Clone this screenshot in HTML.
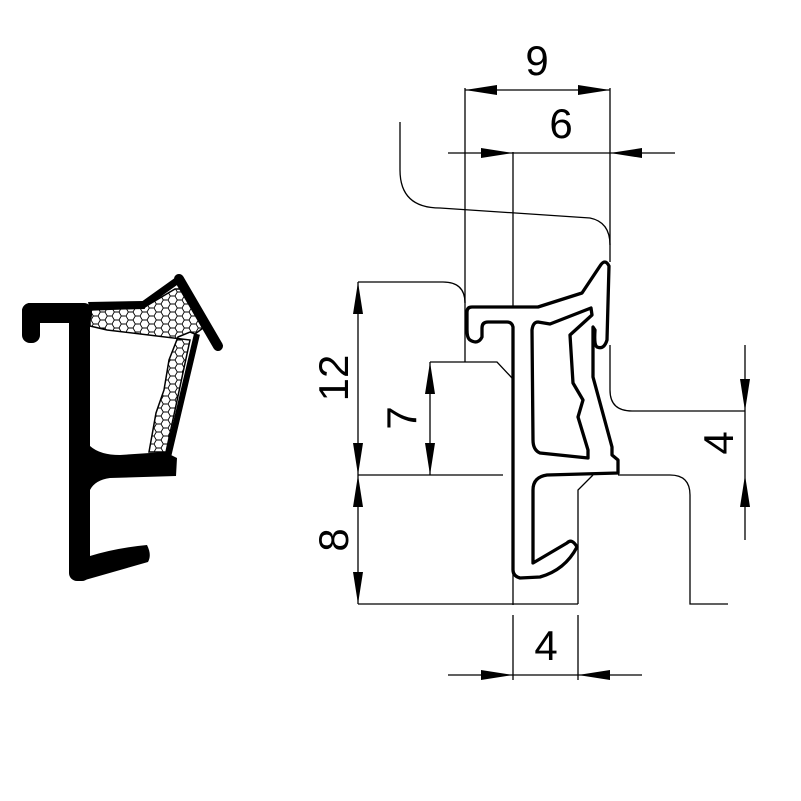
<!DOCTYPE html>
<html><head><meta charset="utf-8"><style>body{margin:0;background:#fff}svg{display:block}</style></head>
<body>
<svg width="801" height="801" viewBox="0 0 801 801" xmlns="http://www.w3.org/2000/svg">
<defs>
<pattern id="hex" width="14" height="8" patternUnits="userSpaceOnUse">
<rect width="14" height="8" fill="#fff"/>
<path d="M0,4 L2.3,0 L7,0 L9.3,4 L7,8 L2.3,8 Z M9.3,4 L14,4" fill="none" stroke="#000" stroke-width="0.9"/>
</pattern>
</defs>
<!-- Left profile -->
<g fill="#000">
<polygon points="90,310 143,308 175,289 184,289 203,328 195,334 190,332 178,337 169,360 164,390 156,413 149,452 166,452 190,340 107,330 90,326" fill="url(#hex)" stroke="#000" stroke-width="1.5"/>
<rect x="22" y="303" width="70" height="20" rx="8"/>
<rect x="22" y="303" width="18" height="40" rx="8"/>
<rect x="69" y="303" width="21" height="278" rx="8"/>
<polygon points="88,302 143,301 145,309 90,310"/>
<line x1="143" y1="305" x2="178" y2="280" stroke="#000" stroke-width="7" stroke-linecap="round"/>
<line x1="179" y1="279" x2="218" y2="346" stroke="#000" stroke-width="10" stroke-linecap="round"/>
<line x1="197" y1="334" x2="168" y2="457" stroke="#000" stroke-width="6"/>
<path d="M90,446 Q100,455 120,455 L165,452 L177,458 L176,476 L110,478 Q95,480 90,490 Z"/>
<path d="M72,555 Q72,582 85,580 Q120,570 148,562 Q152,555 147,545 Q115,548 90,556 Z"/>
</g>
<!-- Right drawing thin lines -->
<g fill="none" stroke="#000" stroke-width="1.3">
<line x1="465" y1="88" x2="465" y2="362"/>
<line x1="513" y1="152" x2="513" y2="605"/>
<line x1="610" y1="88" x2="610" y2="262"/>
<path d="M400,122 L400,170 Q400,208 440,208 L590,218 Q610,222 610,245"/>
<path d="M358,282 L443,282 Q465,282 465,303"/>
<path d="M430,362 L497,362 L512,378"/>
<line x1="358" y1="475" x2="503" y2="475"/>
<line x1="358" y1="604" x2="513" y2="604"/>
<line x1="513" y1="604" x2="578" y2="604"/>
<path d="M610,345 L610,390 Q610,411 632,411 L745,411"/>
<path d="M618,475 L670,475 Q690,475 690,495 L690,604 L728,604"/>
<path d="M593,475 L578,490 L578,604"/>
<line x1="578" y1="615" x2="578" y2="680"/>
<line x1="513" y1="615" x2="513" y2="680"/>
<!-- dims -->
<line x1="465" y1="90" x2="610" y2="90"/>
<line x1="448" y1="153" x2="675" y2="153"/>
<line x1="358" y1="282" x2="358" y2="604"/>
<line x1="430" y1="362" x2="430" y2="475"/>
<line x1="745" y1="345" x2="745" y2="540"/>
<line x1="448" y1="675" x2="642" y2="675"/>
</g>
<g fill="#000">
<polygon points="465,90 497,85 497,95"/><polygon points="610,90 578,85 578,95"/>
<polygon points="513,153 481,148 481,158"/><polygon points="610,153 642,148 642,158"/>
<polygon points="358,282 353,314 363,314"/><polygon points="358,475 353,443 363,443"/>
<polygon points="358,475 353,507 363,507"/><polygon points="358,604 353,572 363,572"/>
<polygon points="430,362 425,394 435,394"/><polygon points="430,475 425,443 435,443"/>
<polygon points="745,411 740,379 750,379"/><polygon points="745,475 740,507 750,507"/>
<polygon points="513,675 481,670 481,680"/><polygon points="578,675 610,670 610,680"/>
</g>
<!-- Right profile -->
<g fill="#fff" stroke="#000" stroke-width="3.3" stroke-linejoin="round">
<path d="M467,312 Q467,307 472,307 L538,307 L582,293 L600,266 Q605,258 609,266 L607,340 Q604,350 597,347 Q594,345 595,330 L593,327 L593,377 L612,447 L612,455 L618,460 L618,473 L547,475 Q533,477 533,490 L533,563 L567,543 Q572,538 577,547 Q565,570 540,577 L520,578 Q513,576 513,570 L513,327 Q512,322 507,322 L488,322 Q482,322 482,328 L482,337 Q478,345 470,340 Q467,338 467,330 Z"/>
<path d="M538,322 L550,324 L591,308 L592,315 L570,335 L573,383 L583,400 L578,417 L588,450 L588,458 L540,453 Q533,450 533,440 L532,330 Q533,322 538,322 Z"/>
</g>
<g font-family="Liberation Sans, sans-serif" font-size="42" fill="#000" text-anchor="middle">
<text x="537" y="75">9</text>
<text x="561" y="138">6</text>
<text x="546" y="660">4</text>
<text transform="translate(348,378) rotate(-90)">12</text>
<text transform="translate(416,418) rotate(-90)">7</text>
<text transform="translate(348,540) rotate(-90)">8</text>
<text transform="translate(733,443) rotate(-90)">4</text>
</g>
</svg>
</body></html>
